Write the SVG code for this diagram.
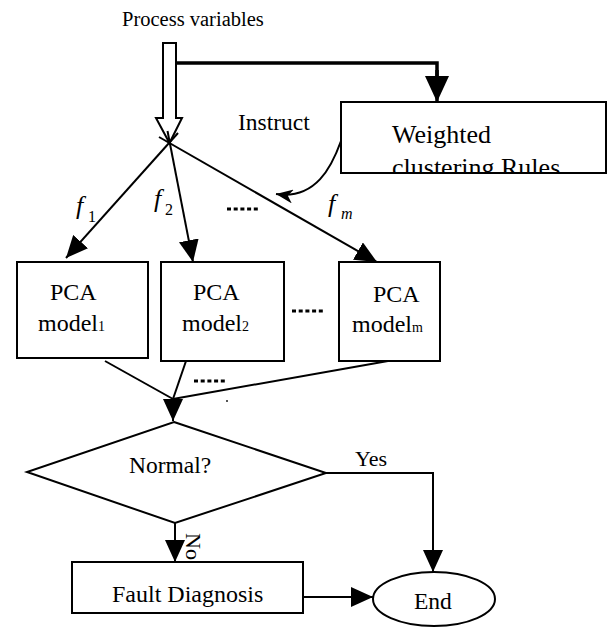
<svg xmlns="http://www.w3.org/2000/svg" width="607" height="627" viewBox="0 0 607 627">
<style>
  .t { font-family: "Liberation Serif", "Times New Roman", serif; fill: #000; }
  .it { font-family: "Liberation Serif", "Times New Roman", serif; font-style: italic; fill: #000; }
  .box { fill: #fff; stroke: #000; stroke-width: 2; }
  .ln { fill: none; stroke: #000; stroke-width: 2; }
  .dots { fill: none; stroke: #000; stroke-width: 3; stroke-dasharray: 4 2.7; }
</style>
<defs>
  <marker id="ah" markerUnits="userSpaceOnUse" markerWidth="22" markerHeight="20" refX="22" refY="10" orient="auto">
    <path d="M0,0 L22,10 L0,20 Z" fill="#000"/>
  </marker>
  <marker id="ahb" markerUnits="userSpaceOnUse" markerWidth="26" markerHeight="24" refX="26" refY="12" orient="auto">
    <path d="M0,0 L26,12 L0,24 Z" fill="#000"/>
  </marker>
  <marker id="barb" markerUnits="userSpaceOnUse" markerWidth="18" markerHeight="14" refX="17" refY="7" orient="auto">
    <path d="M0,0 L17,7 L0,14 L5,7 Z" fill="#000"/>
  </marker>
  <clipPath id="wclip"><rect x="341" y="102" width="265" height="71"/></clipPath>
</defs>

<text class="t" x="122" y="26" font-size="20.5">Process variables</text>

<g id="connectors">
  <!-- thick line to rules box -->
  <polyline points="176,63 437,63 437,76" fill="none" stroke="#000" stroke-width="3.5"/>
  <line x1="437" y1="70" x2="437" y2="102" stroke="#000" stroke-width="3.5" marker-end="url(#ahb)"/>
  <!-- fan lines -->
  <line class="ln" x1="178" y1="133" x2="66" y2="258" marker-end="url(#ah)"/>
  <line class="ln" x1="167.5" y1="131" x2="193" y2="262" marker-end="url(#ah)"/>
  <line class="ln" x1="159" y1="137" x2="377" y2="262" marker-end="url(#ah)"/>
  <!-- instruct curve -->
  <path class="ln" d="M341,141 C332,166 316,200 276,194" marker-end="url(#barb)"/>
  <!-- merge lines -->
  <line class="ln" x1="105" y1="361" x2="173" y2="399"/>
  <line class="ln" x1="186" y1="361" x2="173" y2="399"/>
  <line class="ln" x1="388" y1="361" x2="173" y2="399"/>
  <line class="ln" x1="173" y1="398" x2="173" y2="421" marker-end="url(#ah)"/>
  <!-- No -->
  <line class="ln" x1="175" y1="523" x2="175" y2="562" marker-end="url(#ah)"/>
  <!-- Yes -->
  <polyline class="ln" points="326,473 433,473 433,572" marker-end="url(#ah)"/>
  <!-- Fault to End -->
  <line class="ln" x1="303" y1="597" x2="373" y2="597" marker-end="url(#ah)"/>
  <!-- dots -->
  <line class="dots" x1="227" y1="209" x2="258" y2="209"/>
  <line class="dots" x1="292" y1="311" x2="323" y2="311"/>
  <line class="dots" x1="194" y1="381" x2="225" y2="381"/>
  <rect x="226" y="400" width="2" height="2" fill="#555"/>
</g>

<g id="input-arrow">
  <path d="M163,43 L176,43 L176,118 L182,118 L169.5,143 L156,118 L163,118 Z" fill="none" stroke="#000" stroke-width="2"/>
</g>

<g id="instruct-label">
  <text class="t" x="238" y="130" font-size="23.5">Instruct</text>
</g>

<g id="rules">
  <rect class="box" x="341" y="102" width="265" height="71"/>
  <g clip-path="url(#wclip)">
    <text class="t" x="392" y="143" font-size="26">Weighted</text>
    <text class="t" x="392" y="176" font-size="26">clustering Rules</text>
  </g>
</g>

<g id="labels-f">
  <text class="it" x="76" y="214" font-size="26">f</text>
  <text class="t" x="88" y="222" font-size="16">1</text>
  <text class="it" x="154" y="207" font-size="26">f</text>
  <text class="t" x="165" y="215" font-size="16">2</text>
  <text class="it" x="328" y="212" font-size="26">f</text>
  <text class="it" x="341" y="219" font-size="16">m</text>
</g>

<g id="model1">
  <rect class="box" x="17" y="262" width="131" height="96"/>
  <text class="t" x="50" y="300" font-size="24">PCA</text>
  <text class="t" x="38" y="331" font-size="24">model<tspan font-size="14">1</tspan></text>
</g>
<g id="model2">
  <rect class="box" x="161" y="262" width="123" height="99"/>
  <text class="t" x="193" y="300" font-size="24">PCA</text>
  <text class="t" x="182" y="331" font-size="24">model<tspan font-size="14">2</tspan></text>
</g>
<g id="modelm">
  <rect class="box" x="339" y="262" width="101" height="99"/>
  <text class="t" x="373" y="302" font-size="24">PCA</text>
  <text class="t" x="352" y="332" font-size="24">model<tspan font-size="14">m</tspan></text>
</g>

<g id="normal">
  <polygon class="box" points="174,422 326,473 175,523 27,472"/>
  <text class="t" x="129" y="473" font-size="23.5">Normal?</text>
</g>

<text class="t" x="355" y="466" font-size="22">Yes</text>
<text class="t" font-size="22" transform="translate(186,533) rotate(90)">No</text>

<g id="fault">
  <rect class="box" x="72" y="562" width="231" height="51"/>
  <text class="t" x="112" y="602" font-size="24">Fault Diagnosis</text>
</g>

<g id="end">
  <ellipse class="box" cx="434" cy="599" rx="61" ry="27"/>
  <text class="t" x="414" y="609" font-size="23.5">End</text>
</g>
</svg>
